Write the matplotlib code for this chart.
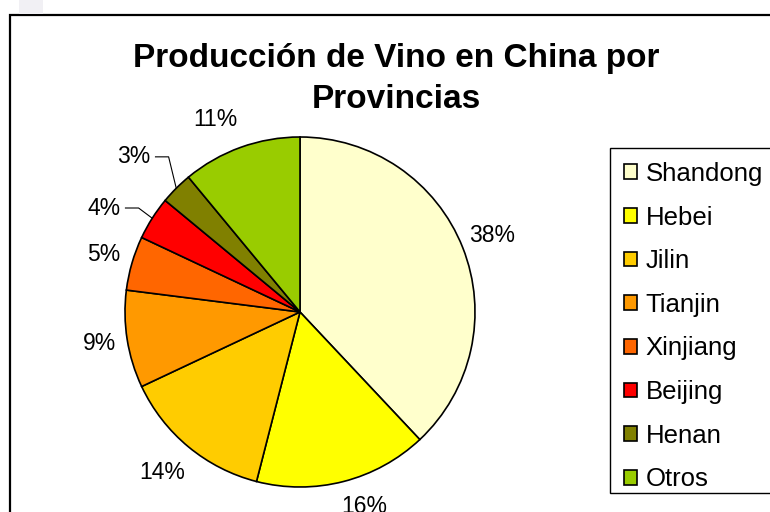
import matplotlib
matplotlib.use('Agg')
import matplotlib.pyplot as plt
from matplotlib.patches import Rectangle
import numpy as np

provincias = ['Shandong', 'Hebei', 'Jilin', 'Tianjin', 'Xinjiang', 'Beijing', 'Henan', 'Otros']
porcentajes = [38, 16, 14, 9, 5, 4, 3, 11]
colores = ['#FFFFCC', '#FFFF00', '#FFCC00', '#FF9900', '#FF6600', '#FF0000', '#808000', '#99CC00']
# label placement: distance from the centre (pie radius = 1) and angle shift from the wedge middle
dist_etiqueta = [1.18, 1.17, 1.21, 1.16, 1.17, 1.27, 1.30, 1.20]
giro_etiqueta = [0, 4, -1, 0, 0, 4.5, 2, 4]
con_linea = [False, False, False, False, False, True, True, False]

plt.rcParams['font.family'] = ['Liberation Sans', 'DejaVu Sans']

W, H = 770, 512
fig = plt.figure(figsize=(W / 100, H / 100), dpi=100, facecolor='white')

# chart frame and the little grey tab above it
fig.patches.append(Rectangle((10 / W, -0.01), 1.0, 1.01 - 15 / H, transform=fig.transFigure,
                             facecolor='none', edgecolor='black', linewidth=1.6, zorder=0))
fig.patches.append(Rectangle((19 / W, 1 - 14 / H), 24 / W, 14 / H, transform=fig.transFigure,
                             facecolor='#F1F0F4', edgecolor='none', zorder=0))
# legend frame
fig.patches.append(Rectangle((610 / W, 1 - 493 / H), 1.0, 345 / H, transform=fig.transFigure,
                             facecolor='white', edgecolor='black', linewidth=1.0, zorder=0))

ax = fig.add_axes([125 / W, 25 / H, 350 / W, 350 / H])
ax.set_zorder(2)
wedges, _ = ax.pie(porcentajes, colors=colores, startangle=90, counterclock=False, radius=1,
                   wedgeprops={'edgecolor': 'black', 'linewidth': 1.2})
ax.set_xlim(-1, 1)
ax.set_ylim(-1, 1)
ax.set_aspect('equal')
ax.axis('off')

for w, p, d, g, linea in zip(wedges, porcentajes, dist_etiqueta, giro_etiqueta, con_linea):
    mid = np.deg2rad((w.theta1 + w.theta2) / 2)
    ang = mid + np.deg2rad(g)
    x, y = d * np.cos(ang), d * np.sin(ang)
    ax.text(x, y, f'{p}%', ha='center', va='center', fontsize=16.5, clip_on=False)
    if linea:
        xe, ye = np.cos(mid), np.sin(mid)
        ax.plot([x + 0.125, x + 0.2, xe], [y, y, ye], color='black', lw=0.8, clip_on=False)

fig.text(396 / W, 1 - 79 / H, 'Producción de Vino en China por\nProvincias', ha='center', va='center',
         fontsize=24, fontweight='bold', linespacing=1.4)

leg = fig.legend(wedges, provincias, loc='upper left', bbox_to_anchor=(611 / W, 1 - 149 / H),
                 fontsize=18.5, frameon=False,
                 handlelength=0.5, handleheight=0.5, handletextpad=0.35, labelspacing=0.765,
                 borderpad=0.5, borderaxespad=0)
leg.set_zorder(3)

fig.savefig('out.png', dpi=100)
